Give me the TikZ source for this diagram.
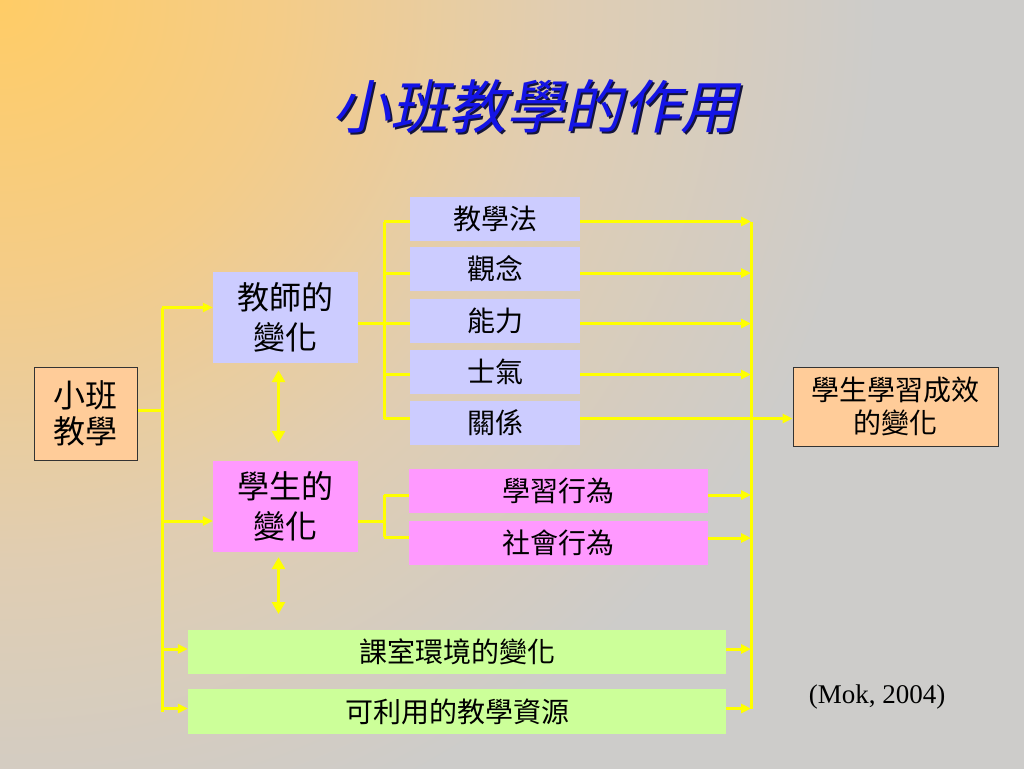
\documentclass[tikz,border=0pt]{standalone}
\usepackage{fontspec}
\setmainfont{Liberation Serif}
\newfontfamily\cjk{Noto Sans CJK TC}
\newfontfamily\cjkit[FakeSlant=0.22]{Noto Sans CJK TC}
\usetikzlibrary{arrows.meta}
\definecolor{bgA}{RGB}{255,204,102}
\definecolor{bgB}{RGB}{244,204,136}
\definecolor{bgC}{RGB}{224,205,178}
\definecolor{bgD}{RGB}{205,204,202}
\definecolor{lav}{RGB}{204,204,255}
\definecolor{pinkb}{RGB}{255,153,255}
\definecolor{greenb}{RGB}{204,255,153}
\definecolor{peach}{RGB}{255,204,153}
\definecolor{ylw}{RGB}{255,255,0}
\definecolor{titleblue}{RGB}{20,20,230}
\definecolor{shadowc}{RGB}{20,20,60}
\pgfdeclareradialshading{bgsh}{\pgfpoint{0bp}{0bp}}{color(0bp)=(bgA); color(3.5bp)=(bgB); color(7bp)=(bgC); color(11bp)=(bgD); color(25bp)=(bgD); color(50bp)=(bgD)}
\tikzset{
  boxbase/.style={inner sep=0pt, align=center, text=black},
  lavbox/.style={boxbase, fill=lav},
  pinkbox/.style={boxbase, fill=pinkb},
  greenbox/.style={boxbase, fill=greenb},
  peachbox/.style={boxbase, fill=peach, draw=black!80, line width=1pt},
  bigfont/.style={font=\cjk\fontsize{32}{40}\selectfont},
  smallfont/.style={font=\cjk\fontsize{28}{32}\selectfont},
  conn/.style={draw=ylw, line width=3pt},
  arr/.style={conn, -{Triangle[length=10pt,width=9pt]}},
  dbl/.style={conn, {Triangle[length=12pt,width=13pt]}-{Triangle[length=12pt,width=13pt]}}
}
\begin{document}
\begin{tikzpicture}[x=1pt,y=-1pt]
\useasboundingbox (0,0) rectangle (1024,768);
\begin{scope}
  \clip (0,0) rectangle (1024,768);
  \shade[shading=bgsh] (0,0) circle (2000pt);
\end{scope}

% title
\node[font=\cjkit\fontsize{58}{60}\selectfont, text=shadowc] (titleshadow) at (537,108) {小班教學的作用};
\node[font=\cjkit\fontsize{58}{60}\selectfont, text=titleblue] (title) at (535,106) {小班教學的作用};

% boxes
\node[peachbox, minimum width=103pt, minimum height=93pt, font=\cjk\fontsize{32}{36}\selectfont] (xb) at (85.5,413.5) {小班\\教學};
\node[peachbox, minimum width=205pt, minimum height=79pt, font=\cjk\fontsize{28}{33}\selectfont] (out) at (895.5,406.5) {學生學習成效\\的變化};

\node[lavbox, bigfont, minimum width=145pt, minimum height=91pt] (t) at (285.5,317.5) {教師的\\變化};
\node[pinkbox, bigfont, minimum width=145pt, minimum height=91pt] (s) at (285.5,506.5) {學生的\\變化};

\node[lavbox, smallfont, minimum width=170pt, minimum height=44pt] (t1) at (495,218.5) {教學法};
\node[lavbox, smallfont, minimum width=170pt, minimum height=44pt] (t2) at (495,269) {觀念};
\node[lavbox, smallfont, minimum width=170pt, minimum height=44pt] (t3) at (495,320.5) {能力};
\node[lavbox, smallfont, minimum width=170pt, minimum height=44pt] (t4) at (495,371.5) {士氣};
\node[lavbox, smallfont, minimum width=170pt, minimum height=44pt] (t5) at (495,422.5) {關係};

\node[pinkbox, smallfont, minimum width=299pt, minimum height=44pt] (s1) at (558.5,491) {學習行為};
\node[pinkbox, smallfont, minimum width=299pt, minimum height=44pt] (s2) at (558.5,543) {社會行為};

\node[greenbox, smallfont, minimum width=538pt, minimum height=44pt] (e1) at (457,652) {課室環境的變化};
\node[greenbox, smallfont, minimum width=538pt, minimum height=45pt] (e2) at (457,711.5) {可利用的教學資源};

\node[font=\fontsize{27}{30}\selectfont, text=black] (ref) at (877,697) {(Mok, 2004)};

% bus coordinates
\coordinate (lbx) at (162,0);
\coordinate (tbx) at (384,0);
\coordinate (sbx) at (384,0);
\coordinate (rbx) at (751,0);

% left bus
\draw[conn] ([yshift=3pt]xb.east) -- ([yshift=3pt]xb.east -| lbx);
\draw[conn] ([yshift=10pt]t.west -| lbx) -- (e2.west -| lbx);
\draw[arr] ([yshift=10pt]t.west -| lbx) -- ([yshift=10pt]t.west);
\draw[arr] ([yshift=-14.5pt]s.west -| lbx) -- ([yshift=-14.5pt]s.west);
\draw[arr] ([yshift=3pt]e1.west -| lbx) -- ([yshift=3pt]e1.west);
\draw[arr] ([yshift=3pt]e2.west -| lbx) -- ([yshift=3pt]e2.west);

% teacher bus
\draw[conn] ([yshift=-6pt]t.east) -- ([yshift=-6pt]t.east -| tbx);
\draw[conn] ([yshift=-3pt]t1.west -| tbx) -- ([yshift=4pt]t5.west -| tbx);
\draw[conn] ([yshift=-3pt]t1.west -| tbx) -- ([yshift=-3pt]t1.west);
\draw[conn] ([yshift=-4pt]t2.west -| tbx) -- ([yshift=-4pt]t2.west);
\draw[conn] ([yshift=-3pt]t3.west -| tbx) -- ([yshift=-3pt]t3.west);
\draw[conn] ([yshift=-3pt]t4.west -| tbx) -- ([yshift=-3pt]t4.west);
\draw[conn] ([yshift=4pt]t5.west -| tbx) -- ([yshift=4pt]t5.west);

% student bus
\draw[conn] ([yshift=-14.5pt]s.east) -- ([yshift=-14.5pt]s.east -| sbx);
\draw[conn] ([yshift=-4pt]s1.west -| sbx) -- ([yshift=6pt]s2.west -| sbx);
\draw[conn] ([yshift=-4pt]s1.west -| sbx) -- ([yshift=-4pt]s1.west);
\draw[conn] ([yshift=6pt]s2.west -| sbx) -- ([yshift=6pt]s2.west);

% right bus
\draw[conn] ([yshift=-3pt]t1.east -| rbx) -- ([yshift=3pt]e2.east -| rbx);
\draw[arr] ([yshift=-3pt]t1.east) -- ([yshift=-3pt]t1.east -| rbx);
\draw[arr] ([yshift=-4pt]t2.east) -- ([yshift=-4pt]t2.east -| rbx);
\draw[arr] ([yshift=-3pt]t3.east) -- ([yshift=-3pt]t3.east -| rbx);
\draw[arr] ([yshift=-3pt]t4.east) -- ([yshift=-3pt]t4.east -| rbx);
\draw[arr] ([yshift=4pt]t5.east) -- ([yshift=4pt]t5.east -| out.west);
\draw[arr] ([yshift=-4pt]s1.east) -- ([yshift=-4pt]s1.east -| rbx);
\draw[arr] ([yshift=5pt]s2.east) -- ([yshift=5pt]s2.east -| rbx);
\draw[arr] ([yshift=3pt]e1.east) -- ([yshift=3pt]e1.east -| rbx);
\draw[arr] ([yshift=3pt]e2.east) -- ([yshift=3pt]e2.east -| rbx);

% double arrows
\coordinate (d2end) at (278.5,614);
\draw[dbl] ([xshift=-7pt,yshift=-7pt]t.south) -- ([xshift=-7pt,yshift=18pt]s.north);
\draw[dbl] ([xshift=-7pt,yshift=-5pt]s.south) -- (d2end);
\end{tikzpicture}
\end{document}
